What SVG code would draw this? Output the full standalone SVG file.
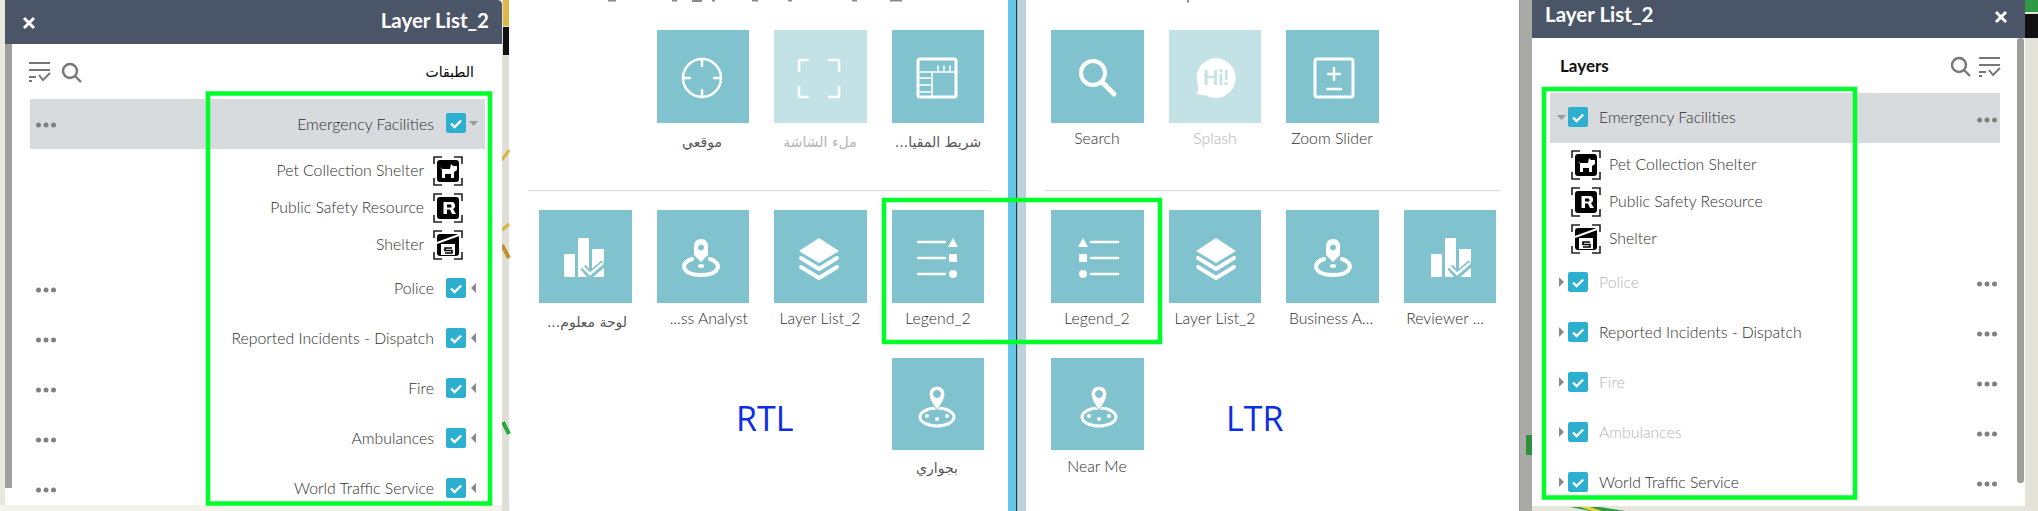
<svg xmlns="http://www.w3.org/2000/svg" xmlns:xlink="http://www.w3.org/1999/xlink" width="2038" height="511" viewBox="0 0 2038 511">
<style>
text{font-family:"Lato","Noto Sans",sans-serif;fill:#2e2e2e;font-size:15.8px;font-weight:300}
.ar{font-family:"DejaVu Sans","Noto Sans",sans-serif;font-size:14px;font-weight:400;fill:#555;direction:rtl}
.m{text-anchor:middle}
.e{text-anchor:end}
.dim{fill:#b4b4b4}
.hd{fill:#fff;font-size:20.5px;font-weight:700}
.big{font-family:"Open Sans","Noto Sans",sans-serif;font-size:34px;font-weight:400;fill:#0a2ee6}
.tile{fill:#80c3ce}
.tile2{fill:#c2e2e6}
.ic{fill:none;stroke:#fff;stroke-linecap:round;stroke-linejoin:round}
.gr{fill:none;stroke:#00ff2a;stroke-width:4.5}
.gi{fill:none;stroke:#777}
</style>
<defs>
<g id="cb"><rect width="20" height="20" rx="2" fill="#2db0cf"/><path d="M5 10.5l3.6 3.5 6.6-6.5" fill="none" stroke="#fff" stroke-width="2.4"/></g>
<g id="dots" fill="#808080"><circle cx="-7.500" r="2.500"/><circle r="2.500"/><circle cx="7.500" r="2.500"/></g>
<g id="bk"><rect x="4" y="4" width="22" height="22" rx="3" fill="#000"/><path d="M1 8V1H9M21 1H29V8M29 22V29H21M9 29H1V22" fill="none" stroke="#222" stroke-width="1.600"/></g>
<g id="pet"><use xlink:href="#bk"/><path d="M7 11L9 13H17L18 8L20 10H24V14L21 16V22H18V18H12V22H9V14Z" fill="#fff"/></g>
<g id="res"><use xlink:href="#bk"/><path d="M10.500 9H19Q22 9 22 13Q22 15.500 20 16L23 21H19L17 16.500H14V21H10.500ZM14 11.500V14.500H18Q19 14 18 11.500Z" fill="#fff"/></g>
<g id="shl"><use xlink:href="#bk"/><path d="M4 13L26 5" stroke="#fff" stroke-width="2"/><path d="M8 14H22V25H8Z" fill="#fff"/><path d="M19 18H12V20.500H19V23H12" fill="none" stroke="#000" stroke-width="1.600"/></g>
<g id="filt"><path class="gi" stroke-width="2" d="M0 1H21M0 8H21M0 15H7M0 19H3M10 13L14 18L21 11"/></g>
<g id="srch"><circle cx="8" cy="8" r="7" class="gi" stroke-width="2.400"/><path d="M13 13L19 19" class="gi" stroke-width="2.400"/></g>
<g id="xmark"><path d="M0 0L10 10M10 0L0 10" stroke="#fff" stroke-width="3" fill="none"/></g>
<g id="i-search"><circle cx="-3" cy="-4" r="12" class="ic" stroke-width="4"/><path d="M6 5L18 17" class="ic" stroke-width="5"/></g>
<g id="i-layers"><path d="M0-20L20-7L0 5L-20-7Z" fill="#fff"/><path d="M-18 0L0 11L18 0M-18 9L0 20L18 9" class="ic" stroke-width="4"/></g>
<g id="i-ba"><path d="M-7-17Q-7-25 0-25Q7-25 7-17V-9L0-2L-7-9ZM0-19.500a3 3 0 1 0 .01 0Z" fill="#fff" fill-rule="evenodd"/><path d="M-9-5C-22-1-19 11 0 11C19 11 22-1 9-5" class="ic" stroke-width="4"/><ellipse cy="2" rx="3" ry="2" fill="#fff"/></g>
<g id="i-near"><ellipse cy="8" rx="17" ry="9" class="ic" stroke-width="3"/><path d="M-8-15a8 8 0 1 1 16 0Q8-9 0 1Q-8-9-8-15ZM0-18.500a3.500 3.500 0 1 0 .01 0Z" fill="#fff" fill-rule="evenodd" stroke="#80c3ce" stroke-width="1"/><circle cx="-10" cy="7" r="2" fill="#fff"/><circle cy="10" r="2" fill="#fff"/><circle cx="10" cy="7" r="2" fill="#fff"/></g>
<g id="i-rev"><path d="M-20-4H-9V19H-20ZM-6-20H5V19H-6ZM8-9H20V19H8Z" fill="#fff"/><path d="M-1 9L6 17L20 5" fill="none" stroke="#80c3ce" stroke-width="7"/><path d="M-1 9L6 16L19 5" fill="none" stroke="#fff" stroke-width="2.500"/></g>
</defs>

<g id="background">
<rect width="2038" height="511" fill="#fff"/>
<rect x="0" y="0" width="6" height="511" fill="#e9e8df"/>
<rect x="0" y="505" width="510" height="6" fill="#f3f2eb"/>
<rect x="502" y="0" width="7" height="511" fill="#dfdfd8"/>
<path d="M502 160L509 150M502 230L509 224" stroke="#d9b53a" stroke-width="3"/>
<path d="M502 245L509 258" stroke="#c28f2e" stroke-width="4"/>
<path d="M503 0H509V26H503Z" fill="#e0b84a"/>
<rect x="503" y="27" width="6" height="28" fill="#111"/>
<path d="M503 422L509 434" stroke="#27a83a" stroke-width="4"/>
<rect x="1519" y="0" width="13" height="511" fill="#a9a9a6"/>
<rect x="1532" y="505" width="506" height="6" fill="#e6e6dc"/>
<rect x="2025" y="0" width="13" height="511" fill="#e3e3da"/>
<rect x="2025" y="0" width="13" height="12" fill="#2f9a44"/>
<rect x="2025" y="14" width="13" height="24" fill="#111"/>
<path d="M1526 435H1532V455H1526Z" fill="#2f8f3a"/>
<path d="M1570 507L1590 511H1625L1600 507Z" fill="#2f9a44"/>
<path d="M1580 507L1592 511H1602L1590 507Z" fill="#e8d93a"/>
</g>

<g id="panel-left">
<rect x="5" y="0" width="497" height="505" fill="#fff"/>
<path d="M5 44H502V5Q502 0 497 0H5Z" fill="#4a5668"/>
<rect x="5" y="44" width="7" height="444" fill="#9e9e9e"/>
<use xlink:href="#xmark" x="24" y="18"/>
<text class="hd e" x="489" y="28">Layer List_2</text>
<text class="ar" x="474" y="77" style="fill:#000">الطبقات</text>
<use xlink:href="#filt" x="29" y="62"/>
<use xlink:href="#srch" x="62" y="63"/>
<rect x="30" y="99" width="455" height="50" fill="#d8dbde"/>
<use xlink:href="#dots" x="46" y="125"/>
<use xlink:href="#cb" x="446" y="113"/>
<path d="M469 121H478L473.500 126Z" fill="#999"/>
<text class="e" x="434" y="130">Emergency Facilities</text>
<use xlink:href="#pet" x="433" y="156"/><text class="e" x="424" y="176">Pet Collection Shelter</text>
<use xlink:href="#res" x="433" y="193"/><text class="e" x="424" y="213">Public Safety Resource</text>
<use xlink:href="#shl" x="433" y="230"/><text class="e" x="424" y="250">Shelter</text>
<g id="l-police"><use xlink:href="#dots" x="46" y="290"/><use xlink:href="#cb" x="446" y="278"/><path d="M476 283V293L471 288Z" fill="#888"/><text class="e" x="434" y="294">Police</text></g>
<g id="l-reported"><use xlink:href="#dots" x="46" y="340"/><use xlink:href="#cb" x="446" y="328"/><path d="M476 333V343L471 338Z" fill="#888"/><text class="e" x="434" y="344">Reported Incidents - Dispatch</text></g>
<g id="l-fire"><use xlink:href="#dots" x="46" y="390"/><use xlink:href="#cb" x="446" y="378"/><path d="M476 383V393L471 388Z" fill="#888"/><text class="e" x="434" y="394">Fire</text></g>
<g id="l-amb"><use xlink:href="#dots" x="46" y="440"/><use xlink:href="#cb" x="446" y="428"/><path d="M476 433V443L471 438Z" fill="#888"/><text class="e" x="434" y="444">Ambulances</text></g>
<g id="l-wts"><use xlink:href="#dots" x="46" y="490"/><use xlink:href="#cb" x="446" y="478"/><path d="M476 483V493L471 488Z" fill="#888"/><text class="e" x="434" y="494">World Traffic Service</text></g>
<rect class="gr" x="208" y="93.500" width="282" height="410"/>
</g>

<g id="divider">
<rect x="1008" y="0" width="8" height="511" fill="#65c6e8"/>
<rect x="1016" y="0" width="1.500" height="511" fill="#1f3a4a"/>
<rect x="1017.500" y="0" width="8.500" height="511" fill="#bcd3dc"/>
</g>

<g id="cutoff" fill="#8a8a8a">
<rect x="608" y="0" width="8" height="1.500"/><rect x="672" y="0" width="5" height="1.500"/><rect x="692" y="0" width="10" height="2"/><rect x="712" y="0" width="3" height="1.500"/><rect x="752" y="0" width="6" height="1.500"/><rect x="788" y="0" width="4" height="1.500"/><rect x="852" y="0" width="5" height="1.500"/><rect x="890" y="0" width="12" height="1.500"/><rect x="1187" y="0" width="2" height="2.500"/>
</g>

<g id="rtl-grid">
<rect x="528" y="190" width="463" height="1.200" fill="#dcdcdc"/>
<g id="r-scale"><rect class="tile" x="892" y="30" width="92" height="93"/><rect x="918" y="59" width="38" height="38" rx="2" class="ic" stroke-width="3"/><path d="M918 72H955M932 72V97M918 78H932M918 85H932M918 92H932M938 66V72M944 66V72M950 66V72" class="ic" stroke-width="1.500"/><text class="ar m" x="938" y="147">شريط المقيا...</text></g>
<g id="r-full"><rect class="tile2" x="774" y="30" width="93" height="93"/><path d="M808 60H800Q799 60 799 61V71M829 60H838Q839 60 839 61V71M799 87V96Q799 97 800 97H808M839 87V96Q839 97 838 97H829" class="ic" stroke-width="2.500"/><text class="ar m" style="fill:#b4b4b4" x="820" y="147">ملء الشاشة</text></g>
<g id="r-loc"><rect class="tile" x="657" y="30" width="92" height="93"/><circle cx="702" cy="78" r="19" class="ic" stroke-width="2.500"/><path d="M702 59V66M702 90V97M683 78H690M714 78H721" class="ic" stroke-width="2.500"/><text class="ar m" x="702" y="147">موقعي</text></g>
<g id="r-legend"><rect class="tile" x="892" y="210" width="92" height="93"/><path d="M918 242H945M918 258H945M918 274H945" class="ic" stroke-width="2.500"/><path d="M953 238L958 247H948Z" fill="#fff"/><rect x="949" y="254" width="8" height="8" fill="#fff"/><circle cx="953" cy="274" r="4" fill="#fff"/><text class="m" x="938" y="324">Legend_2</text></g>
<g id="r-layer"><rect class="tile" x="774" y="210" width="93" height="93"/><use xlink:href="#i-layers" x="819" y="258"/><text class="m" x="820" y="324">Layer List_2</text></g>
<g id="r-ba"><rect class="tile" x="657" y="210" width="92" height="93"/><use xlink:href="#i-ba" x="701" y="264"/><text class="e" x="748" y="324">...ss Analyst</text></g>
<g id="r-rev"><rect class="tile" x="539" y="210" width="93" height="93"/><use xlink:href="#i-rev" x="584" y="258"/><text class="ar m" x="587" y="327">لوحة معلوم...</text></g>
<g id="r-near"><rect class="tile" x="892" y="358" width="92" height="92"/><use xlink:href="#i-near" x="937" y="409"/><text class="ar m" x="937" y="473">بجواري</text></g>
<text class="big" x="736" y="431">RTL</text>
</g>

<g id="ltr-grid">
<rect x="1045" y="190" width="455" height="1.200" fill="#dcdcdc"/>
<g id="l-search"><rect class="tile" x="1051" y="30" width="93" height="93"/><use xlink:href="#i-search" x="1096" y="77"/><text class="m" x="1097" y="144">Search</text></g>
<g id="l-splash"><rect class="tile2" x="1169" y="30" width="92" height="93"/><path d="M1216 58a20 20 0 1 1-10 37.500L1196 94Q1200 88 1197 82A20 20 0 0 1 1216 58Z" fill="#fff"/><text x="1216" y="85" class="m" style="fill:#c2e2e6;font-size:20px;font-weight:700">Hi!</text><text class="m dim" x="1215" y="144">Splash</text></g>
<g id="l-zoom"><rect class="tile" x="1286" y="30" width="93" height="93"/><rect x="1315" y="59" width="38" height="38" rx="2" class="ic" stroke-width="3"/><path d="M1334 68V80M1328 74H1340M1327 89H1341" class="ic" stroke-width="2.500"/><text class="m" x="1332" y="144">Zoom Slider</text></g>
<g id="l-legend"><rect class="tile" x="1051" y="210" width="93" height="93"/><path d="M1091 242H1118M1091 258H1118M1091 274H1118" class="ic" stroke-width="2.500"/><path d="M1083 238L1088 247H1078Z" fill="#fff"/><rect x="1079" y="254" width="8" height="8" fill="#fff"/><circle cx="1083" cy="274" r="4" fill="#fff"/><text class="m" x="1097" y="324">Legend_2</text></g>
<g id="l-layer"><rect class="tile" x="1169" y="210" width="92" height="93"/><use xlink:href="#i-layers" x="1216" y="258"/><text class="m" x="1215" y="324">Layer List_2</text></g>
<g id="l-ba"><rect class="tile" x="1286" y="210" width="93" height="93"/><use xlink:href="#i-ba" x="1333" y="264"/><text class="m" x="1331" y="324">Business A...</text></g>
<g id="l-rev"><rect class="tile" x="1404" y="210" width="92" height="93"/><use xlink:href="#i-rev" x="1451" y="258"/><text class="m" x="1445" y="324">Reviewer ...</text></g>
<g id="l-near"><rect class="tile" x="1051" y="358" width="93" height="92"/><use xlink:href="#i-near" x="1099" y="409"/><text class="m" x="1097" y="472">Near Me</text></g>
<text class="big" x="1226" y="431">LTR</text>
<rect x="1519" y="0" width="1" height="511" fill="#999"/>
</g>

<g id="panel-right">
<rect x="1532" y="0" width="493" height="506" fill="#fff"/>
<rect x="1532" y="0" width="493" height="38" fill="#4a5668"/>
<rect x="2017" y="38" width="7" height="445" rx="3" fill="#9e9e9e"/>
<text class="hd" x="1545" y="22">Layer List_2</text>
<use xlink:href="#xmark" x="1996" y="12"/>
<text x="1560" y="72" style="fill:#111;font-size:17px;font-weight:700">Layers</text>
<use xlink:href="#srch" x="1951" y="57"/>
<use xlink:href="#filt" x="1979" y="57"/>
<rect x="1550" y="93" width="450" height="50" fill="#d8dbde"/>
<use xlink:href="#dots" x="1987" y="120"/>
<use xlink:href="#cb" x="1568" y="107"/>
<path d="M1557 115H1566L1561.500 120Z" fill="#999"/>
<text x="1599" y="123">Emergency Facilities</text>
<use xlink:href="#pet" x="1571" y="150"/><text x="1609" y="170">Pet Collection Shelter</text>
<use xlink:href="#res" x="1571" y="187"/><text x="1609" y="207">Public Safety Resource</text>
<use xlink:href="#shl" x="1571" y="224"/><text x="1609" y="244">Shelter</text>
<g id="r2-police"><use xlink:href="#dots" x="1987" y="284"/><use xlink:href="#cb" x="1568" y="272"/><path d="M1559 277V287L1564 282Z" fill="#888"/><text class="dim" x="1599" y="288">Police</text></g>
<g id="r2-reported"><use xlink:href="#dots" x="1987" y="334"/><use xlink:href="#cb" x="1568" y="322"/><path d="M1559 327V337L1564 332Z" fill="#888"/><text x="1599" y="338">Reported Incidents - Dispatch</text></g>
<g id="r2-fire"><use xlink:href="#dots" x="1987" y="384"/><use xlink:href="#cb" x="1568" y="372"/><path d="M1559 377V387L1564 382Z" fill="#888"/><text class="dim" x="1599" y="388">Fire</text></g>
<g id="r2-amb"><use xlink:href="#dots" x="1987" y="434"/><use xlink:href="#cb" x="1568" y="422"/><path d="M1559 427V437L1564 432Z" fill="#888"/><text class="dim" x="1599" y="438">Ambulances</text></g>
<g id="r2-wts"><use xlink:href="#dots" x="1987" y="484"/><use xlink:href="#cb" x="1568" y="472"/><path d="M1559 477V487L1564 482Z" fill="#888"/><text x="1599" y="488">World Traffic Service</text></g>
<rect class="gr" x="1544" y="89" width="311" height="408.500"/>
</g>

<g id="connectors">
<rect class="gr" x="884" y="200" width="276" height="142"/>
</g>
</svg>
